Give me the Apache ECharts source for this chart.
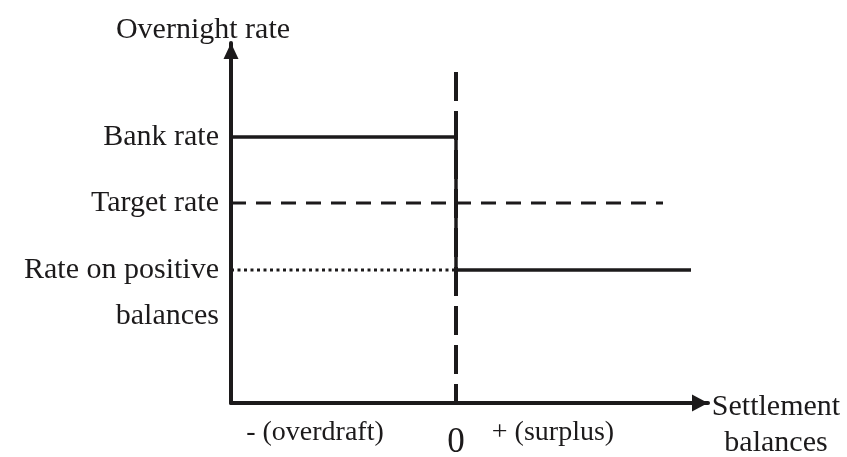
<!DOCTYPE html>
<html>
<head>
<meta charset="utf-8">
<script src="https://cdn.jsdelivr.net/npm/echarts@6/dist/echarts.min.js"></script>
<style>
  html, body { margin: 0; padding: 0; background: #fff; }
  #chart { width: 847px; height: 457px; }
</style>
</head>
<body>
<div id="chart"></div>
<script>
// schematic units: x = settlement balances (0 = zero balance), y = overnight rate
var xMin = -4.5, xMax = 5.04;
var yMin = 0, yMax = 9;

var xLabelValues = [-2.82, 0, 1.94];
var xLabelTexts = ['- (overdraft)', '0', '+ (surplus)'];
var yLabelValues = [6.65, 5, 3.325, 2.175];
var yLabelTexts = ['Bank rate', 'Target rate', 'Rate on positive', 'balances'];

// overnight rate schedule: bank rate when overdrawn, positive-balance rate in surplus
var ratePath = [[-4.5, 6.65], [0, 6.65], [0, 3.325], [4.7, 3.325]];
var targetLine = [[-4.5, 5], [4.14, 5]];
var depositGuide = [[-4.5, 3.325], [0, 3.325]];
var zeroLine = [[0, 8.275], [0, 0]];

var ink = '#1c1a1b';
var serif = '"Liberation Serif", "Times New Roman", serif';

var chart = echarts.init(document.getElementById('chart'));
var option = {
  animation: false,
  backgroundColor: '#fff',
  textStyle: { fontFamily: serif, color: ink },
  grid: { left: 231, right: 139, top: 43, bottom: 54, containLabel: false, outerBoundsMode: 'none' },
  xAxis: {
    type: 'value',
    min: xMin,
    max: xMax,
    name: 'Settlement\nbalances',
    nameLocation: 'end',
    nameGap: 68,
    nameTextStyle: {
      fontFamily: serif, fontSize: 30, color: ink, lineHeight: 36,
      align: 'center', verticalAlign: 'top', padding: [-14, 0, 0, 0]
    },
    axisLine: {
      show: true, onZero: false,
      symbol: ['none', 'triangle'], symbolSize: [17, 16], symbolOffset: [0, -8],
      lineStyle: { color: ink, width: 4 }
    },
    axisTick: { show: false },
    splitLine: { show: false },
    axisLabel: {
      customValues: xLabelValues,
      margin: 15,
      fontFamily: serif, fontSize: 28, lineHeight: 30, color: ink,
      formatter: function (v) {
        var i = xLabelValues.indexOf(v);
        var t = i >= 0 ? xLabelTexts[i] : '';
        return t === '0' ? '{z|0}' : t;
      },
      rich: { z: { fontFamily: serif, fontSize: 35, lineHeight: 50, color: ink } }
    }
  },
  yAxis: {
    type: 'value',
    min: yMin,
    max: yMax,
    name: 'Overnight rate',
    nameLocation: 'end',
    nameGap: -3,
    nameTextStyle: {
      fontFamily: serif, fontSize: 30, color: ink, lineHeight: 32,
      padding: [0, 56, 0, 0]
    },
    axisLine: {
      show: true, onZero: false,
      symbol: ['none', 'triangle'], symbolSize: [15, 16], symbolOffset: [0, -8],
      lineStyle: { color: ink, width: 4 }
    },
    axisTick: { show: false },
    splitLine: { show: false },
    axisLabel: {
      customValues: yLabelValues,
      margin: 12,
      fontFamily: serif, fontSize: 30, lineHeight: 32, color: ink,
      formatter: function (v) {
        var i = yLabelValues.indexOf(v);
        return i >= 0 ? yLabelTexts[i] : '';
      }
    }
  },
  series: [
    {
      name: 'Zero balance',
      type: 'line',
      data: zeroLine,
      showSymbol: false,
      lineStyle: { color: ink, width: 4, type: [29, 10] },
      z: 3
    },
    {
      name: 'Target rate',
      type: 'line',
      data: targetLine,
      showSymbol: false,
      lineStyle: { color: ink, width: 3, type: [15, 10] }
    },
    {
      name: 'Positive balances guide',
      type: 'line',
      data: depositGuide,
      showSymbol: false,
      lineStyle: { color: ink, width: 3, type: [3, 3.5] }
    },
    {
      name: 'Overnight rate',
      type: 'line',
      data: ratePath,
      showSymbol: false,
      lineStyle: { color: ink, width: 3.5, join: 'miter' },
      z: 4
    }
  ]
};
chart.setOption(option);
</script>
</body>
</html>
